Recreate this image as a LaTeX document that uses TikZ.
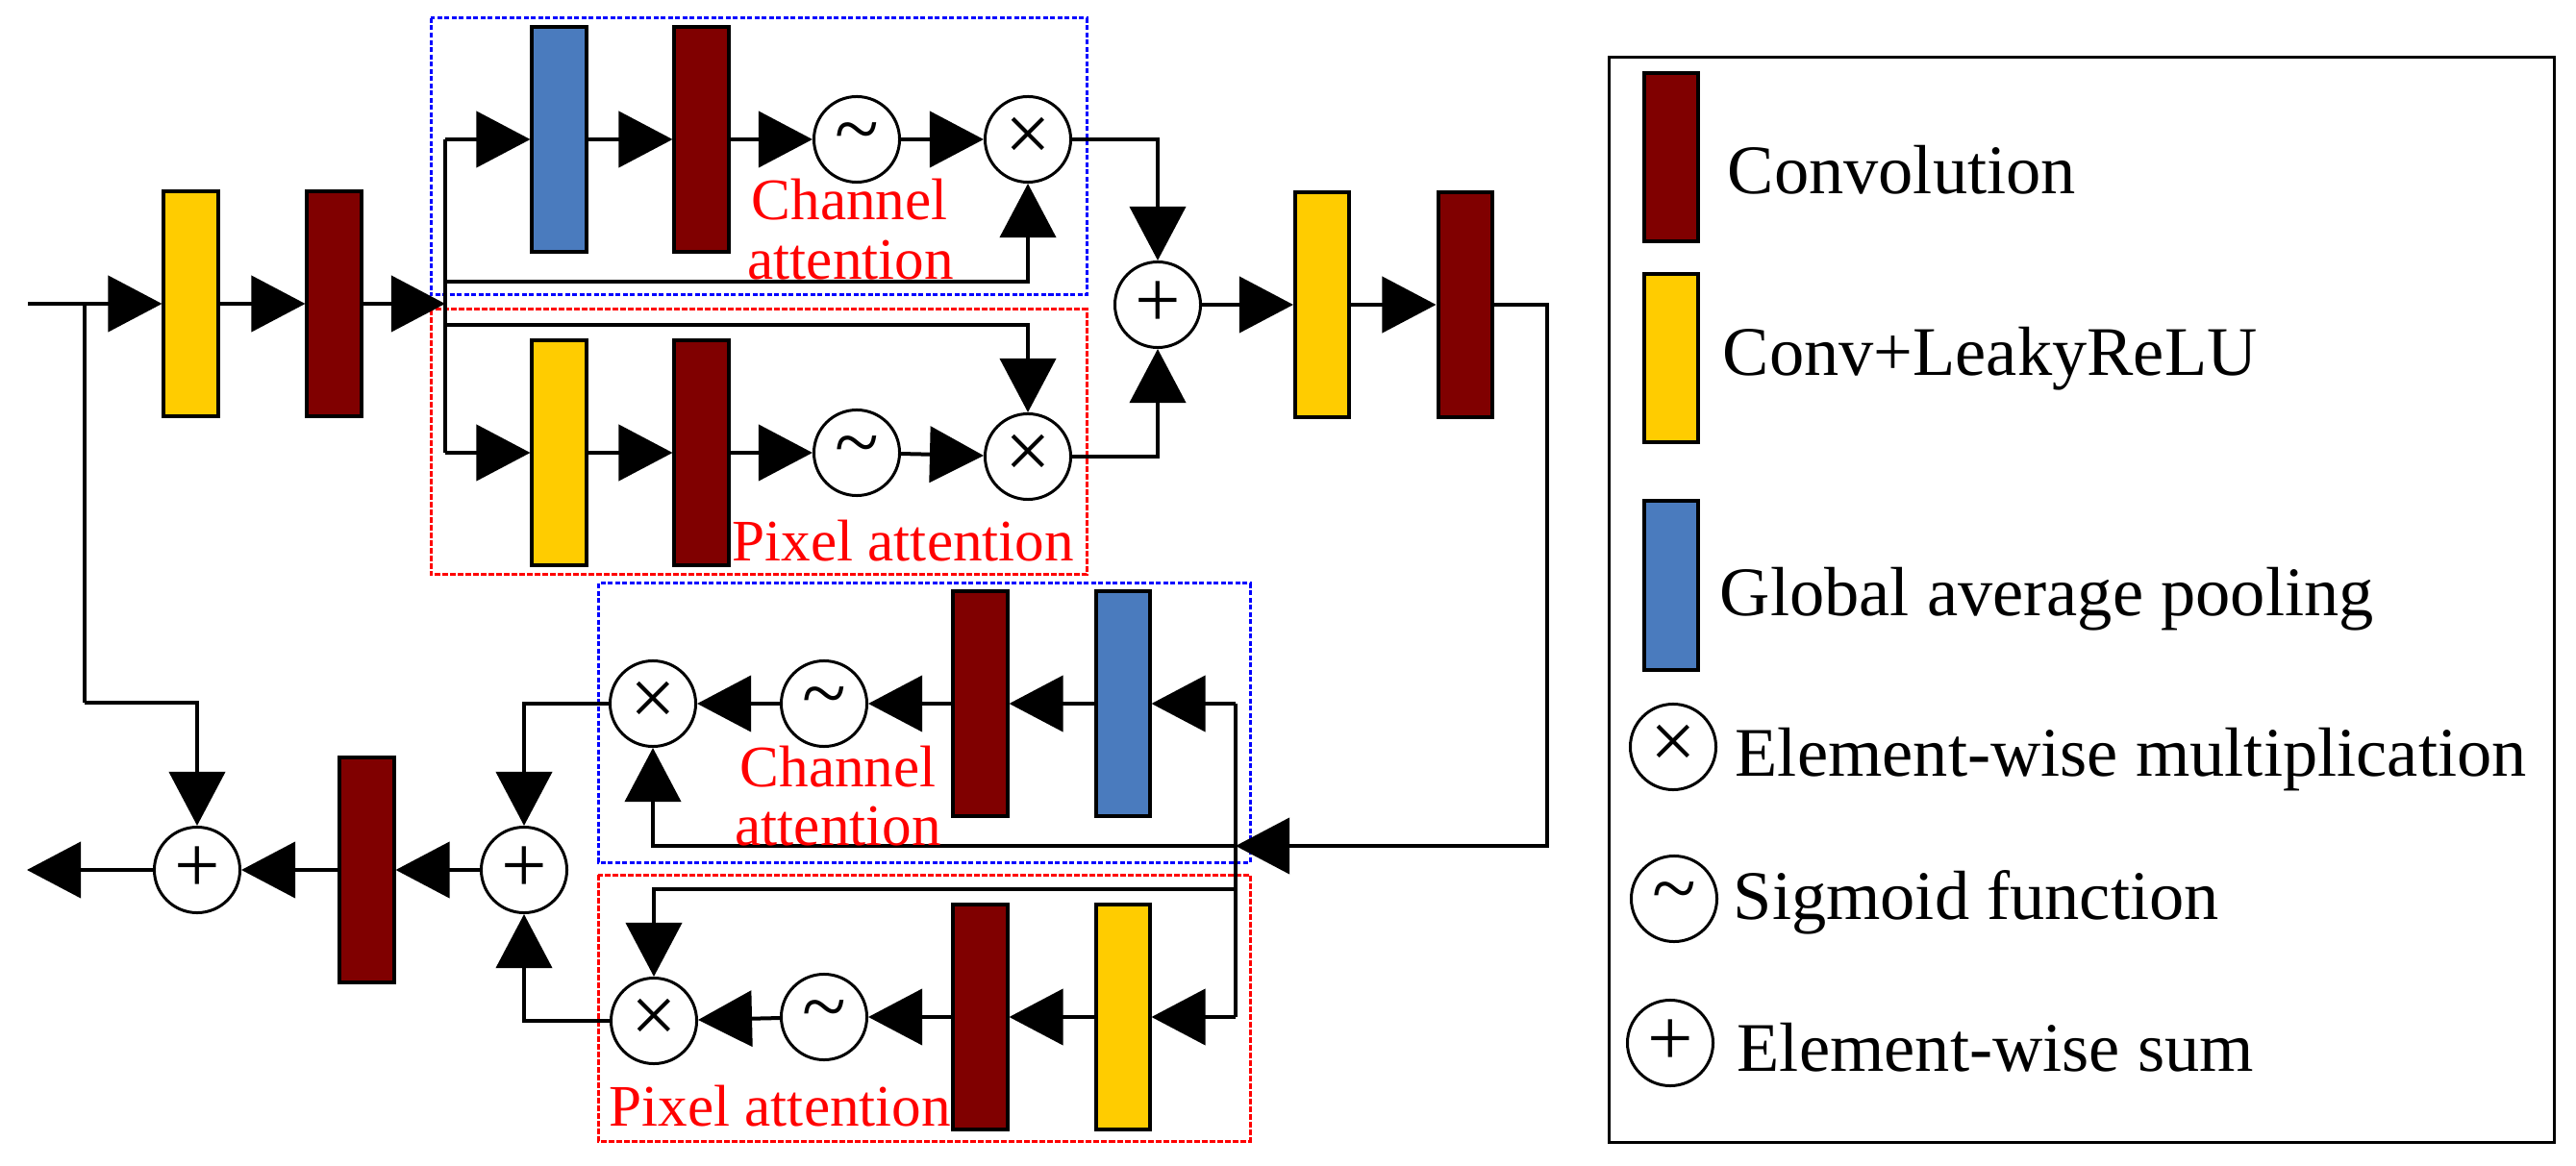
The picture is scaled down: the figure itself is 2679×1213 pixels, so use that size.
\documentclass[tikz,border=0pt]{standalone}
\usepackage{fontspec}
\setmainfont{Liberation Serif}
\usepackage{tikz}
\usetikzlibrary{
  arrows.meta,
  positioning,
  calc
}
\definecolor{ConvRed}{RGB}{128,0,0}
\definecolor{ReluYellow}{RGB}{255,204,0}
\definecolor{PoolBlue}{RGB}{74,123,190}
\definecolor{FrameBlue}{RGB}{0,0,255}
\definecolor{FrameRed}{RGB}{255,0,0}
\tikzset{
  convnode/.style={draw=black,fill=ConvRed,line width=0.04cm,minimum width=0.56cm,minimum height=2.34cm,inner sep=0pt},
  relunode/.style={draw=black,fill=ReluYellow,line width=0.04cm,minimum width=0.56cm,minimum height=2.34cm,inner sep=0pt},
  poolnode/.style={draw=black,fill=PoolBlue,line width=0.04cm,minimum width=0.56cm,minimum height=2.34cm,inner sep=0pt},
  opnode/.style={draw=black,circle,line width=0.03cm,minimum size=0.89cm,inner sep=0pt,font=\fontsize{24}{24}\selectfont},
  link/.style={-{Triangle[length=0.56cm,width=0.58cm]},line width=0.04cm},
  wire/.style={line width=0.04cm},
  chanframe/.style={draw=FrameBlue,line width=0.03cm,dash pattern=on 0.05cm off 0.025cm},
  pixframe/.style={draw=FrameRed,line width=0.03cm,dash pattern=on 0.06cm off 0.02cm},
  attlabel/.style={text=FrameRed,font=\fontsize{17.4}{18}\selectfont,inner sep=0pt,anchor=base west},
  legendtext/.style={font=\fontsize{20.6}{22}\selectfont,inner sep=0pt,anchor=base west}
}

\begin{document}
\begin{tikzpicture}[x=0.01cm,y=-0.01cm]
\useasboundingbox (0,0) rectangle (2679,1213);
% attention frames
\draw[chanframe] (448,19) rectangle (1130,307);
\draw[pixframe] (448,322) rectangle (1130,598);
\draw[chanframe] (622,607) rectangle (1300,897);
\draw[pixframe] (622,910) rectangle (1300,1187);
% main path
\coordinate (in) at (29,316);
\node[relunode] (y1) at (198.5,316) {};
\node[convnode] (r1) at (347.5,316) {};
\coordinate (s) at (463,316);
\coordinate (sa) at (463,145);
\coordinate (sb) at (463,471);
\coordinate (sc) at (463,293);
\coordinate (sd) at (463,338);
\draw[link] (in) -- (y1);
\draw[link] (y1) -- (r1);
\draw[link] (r1) -- (s);
\draw[wire] (sa) -- (sb);
% upper channel attention
\node[poolnode] (b1) at (581.5,145) {};
\node[convnode] (r2) at (729.5,145) {};
\node[opnode] (g1) at (891,145) {\char"007E};
\node[opnode] (m1) at (1069,145) {×};
\draw[link] (sa) -- (b1);
\draw[link] (b1) -- (r2);
\draw[link] (r2) -- (g1);
\draw[link] (g1) -- (m1);
\draw[link] (sc) -| (m1);
\node[attlabel] at (781,229) {Channel};
\node[attlabel] at (777,291) {attention};
% upper pixel attention
\node[relunode] (y2) at (581.5,471) {};
\node[convnode] (r3) at (729.5,471) {};
\node[opnode] (g2) at (891,471) {\char"007E};
\node[opnode] (m2) at (1069,475) {×};
\draw[link] (sb) -- (y2);
\draw[link] (y2) -- (r3);
\draw[link] (r3) -- (g2);
\draw[link] (g2) -- (m2);
\draw[link] (sd) -| (m2);
\node[attlabel] at (761,584) {Pixel attention};
% merge and tail
\node[opnode] (p1) at (1204,317) {+};
\node[relunode] (y3) at (1375,317) {};
\node[convnode] (r4) at (1523.5,317) {};
\coordinate (e2) at (1609,880);
\coordinate (t) at (1285,880);
\draw[link] (m1) -| (p1);
\draw[link] (m2) -| (p1);
\draw[link] (p1) -- (y3);
\draw[link] (y3) -- (r4);
\draw[link] (r4) -| (e2) -- (t);
% lower attention blocks
\coordinate (ta) at (1285,732);
\coordinate (tb) at (1285,1058);
\coordinate (td) at (1285,925);
\draw[wire] (ta) -- (tb);
\node[poolnode] (b2) at (1167.5,732) {};
\node[convnode] (r5) at (1019.5,732) {};
\node[opnode] (g3) at (857,732) {\char"007E};
\node[opnode] (m3) at (679,732) {×};
\draw[link] (ta) -- (b2);
\draw[link] (b2) -- (r5);
\draw[link] (r5) -- (g3);
\draw[link] (g3) -- (m3);
\draw[link] (t) -| (m3);
\node[attlabel] at (769,818) {Channel};
\node[attlabel] at (764,879) {attention};
\node[relunode] (y4) at (1167.5,1058) {};
\node[convnode] (r6) at (1019.5,1058) {};
\node[opnode] (g4) at (857,1058) {\char"007E};
\node[opnode] (m4) at (680,1062) {×};
\draw[link] (tb) -- (y4);
\draw[link] (y4) -- (r6);
\draw[link] (r6) -- (g4);
\draw[link] (g4) -- (m4);
\draw[link] (td) -| (m4);
\node[attlabel] at (633,1171) {Pixel attention};
% output
\node[opnode] (p2) at (545,905) {+};
\node[convnode] (r7) at (381.5,905) {};
\node[opnode] (p3) at (205,905) {+};
\coordinate (out) at (28,905);
\coordinate (ia) at (88,316);
\coordinate (ib) at (88,731);
\draw[link] (m3) -| (p2);
\draw[link] (m4) -| (p2);
\draw[link] (p2) -- (r7);
\draw[link] (r7) -- (p3);
\draw[link] (p3) -- (out);
\draw[link] (ib) -| (p3);
\draw[wire] (ia) -- (ib);
% legend
\draw[line width=0.03cm] (1673,60) rectangle (2656,1188);
\node[convnode,minimum height=1.75cm] (lc) at (1738,163.5) {};
\node[relunode,minimum height=1.75cm] (ly) at (1738,372.5) {};
\node[poolnode,minimum height=1.75cm] (lb) at (1738,609) {};
\node[opnode] (lm) at (1740,777) {×};
\node[opnode] (lg) at (1741,935) {\char"007E};
\node[opnode] (lp) at (1737,1085) {+};
\node[legendtext] at (1796,202) {Convolution};
\node[legendtext] at (1791,391) {Conv+LeakyReLU};
\node[legendtext] at (1788,640) {Global average pooling};
\node[legendtext] at (1804,807) {Element-wise multiplication};
\node[legendtext] at (1802,956) {Sigmoid function};
\node[legendtext] at (1806,1114) {Element-wise sum};
\end{tikzpicture}
\end{document}
